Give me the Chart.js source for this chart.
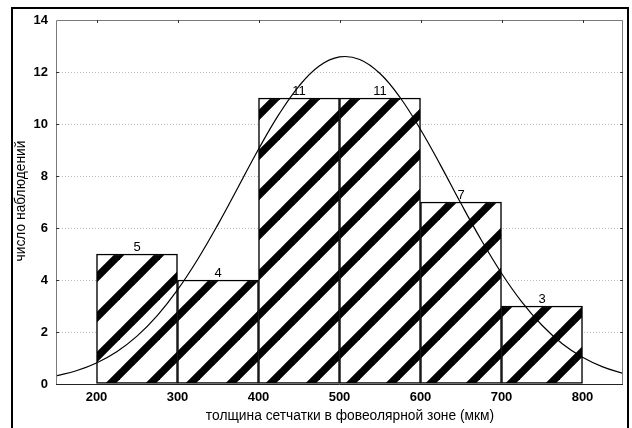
<!DOCTYPE html>
<html>
<head>
<meta charset="utf-8">
<script src="https://cdn.jsdelivr.net/npm/chart.js@4.4.1/dist/chart.umd.min.js"></script>
<style>
  html, body { margin: 0; padding: 0; background: #fff; }
  canvas { display: block; }
</style>
</head>
<body>
<canvas id="hist" width="632" height="428"></canvas>
<script>
// толщина сетчатки в фовеолярной зоне, число наблюдений по интервалам
const binCenters = [250, 350, 450, 550, 650, 750];
const counts = [5, 4, 11, 11, 7, 3];

// нормальная кривая, значения
const curveX = [150, 175, 200, 225, 250, 275, 300, 325, 350, 375, 400, 425, 450, 475, 500,
  525, 550, 575, 600, 625, 650, 675, 700, 725, 750, 775, 800, 825, 850];
const curveY = [0.31, 0.51, 0.81, 1.24, 1.84, 2.63, 3.62, 4.80, 6.14, 7.58, 9.03, 10.36, 11.46, 12.23, 12.58,
  12.48, 11.94, 11.01, 9.79, 8.40, 6.94, 5.54, 4.26, 3.16, 2.26, 1.55, 1.03, 0.66, 0.41];

const xTicks = [200, 300, 400, 500, 600, 700, 800];
const yTicks = [0, 2, 4, 6, 8, 10, 12, 14];

const xTitle = 'толщина сетчатки в фовеолярной зоне (мкм)';
const yTitle = 'число наблюдений';

const FONT = "'Liberation Sans', Arial, Helvetica, sans-serif";

// штриховка столбцов
function makeHatch() {
  const s = 40;
  const c = document.createElement('canvas');
  c.width = s;
  c.height = s;
  const g = c.getContext('2d');
  g.fillStyle = '#fff';
  g.fillRect(0, 0, s, s);
  g.strokeStyle = '#000';
  g.lineWidth = 7.5;
  for (const off of [-26, 14, 54]) {
    g.beginPath();
    g.moveTo(off - s - 10, s + 10);
    g.lineTo(off + 10, -10);
    g.stroke();
  }
  return g.createPattern(c, 'repeat');
}

const decor = {
  id: 'decor',
  beforeDraw(chart) {
    const ctx = chart.ctx;
    ctx.save();
    ctx.fillStyle = '#fff';
    ctx.fillRect(0, 0, chart.width, chart.height);
    ctx.restore();
  },
  afterDatasetsDraw(chart) {
    const ctx = chart.ctx;
    const meta = chart.getDatasetMeta(1);
    ctx.save();
    ctx.fillStyle = '#000';
    ctx.font = '13px ' + FONT;
    ctx.textAlign = 'center';
    ctx.textBaseline = 'bottom';
    meta.data.forEach((bar, i) => {
      ctx.fillText(String(counts[i]), bar.x, bar.y);
    });
    ctx.restore();
  },
  afterDraw(chart) {
    const { ctx, chartArea: a, scales } = chart;
    ctx.save();

    // рамка вокруг всего рисунка
    ctx.strokeStyle = '#000';
    ctx.lineWidth = 2;
    ctx.strokeRect(12, 8, 616, 440);

    // рамка области построения
    ctx.lineWidth = 1;
    ctx.strokeStyle = '#7a7a7a';
    ctx.beginPath();
    ctx.moveTo(a.left + 0.5, a.bottom);
    ctx.lineTo(a.left + 0.5, a.top + 0.5);
    ctx.lineTo(a.right - 0.5, a.top + 0.5);
    ctx.lineTo(a.right - 0.5, a.bottom);
    ctx.stroke();
    ctx.strokeStyle = '#222';
    ctx.beginPath();
    ctx.moveTo(a.left, a.bottom + 0.5);
    ctx.lineTo(a.right, a.bottom + 0.5);
    ctx.stroke();

    // мелкие засечки внутрь
    ctx.strokeStyle = '#333';
    ctx.beginPath();
    xTicks.forEach(v => {
      const px = Math.round(scales.x.getPixelForValue(v)) + 0.5;
      ctx.moveTo(px, a.top);
      ctx.lineTo(px, a.top + 3);
    });
    yTicks.slice(1, -1).forEach(v => {
      const py = Math.round(scales.y.getPixelForValue(v)) + 0.5;
      ctx.moveTo(a.left, py);
      ctx.lineTo(a.left + 3, py);
      ctx.moveTo(a.right, py);
      ctx.lineTo(a.right - 3, py);
    });
    ctx.stroke();

    // подписи осей
    ctx.fillStyle = '#000';
    ctx.font = '13.8px ' + FONT;
    ctx.textAlign = 'center';
    ctx.textBaseline = 'middle';
    ctx.fillText(xTitle, 350, 416);
    ctx.translate(21, 201);
    ctx.rotate(-Math.PI / 2);
    ctx.fillText(yTitle, 0, 0);
    ctx.restore();
  }
};

new Chart(document.getElementById('hist'), {
  type: 'bar',
  data: {
    datasets: [
      {
        type: 'line',
        data: curveX.map((x, i) => ({ x: x, y: curveY[i] })),
        borderColor: '#000',
        borderWidth: 1.2,
        pointRadius: 0,
        tension: 0.4,
        fill: false,
        order: 0
      },
      {
        type: 'bar',
        data: binCenters.map((x, i) => ({ x: x, y: counts[i] })),
        backgroundColor: makeHatch(),
        borderColor: '#000',
        borderWidth: 1.5,
        borderSkipped: false,
        barPercentage: 1,
        categoryPercentage: 1,
        order: 1
      }
    ]
  },
  options: {
    responsive: false,
    animation: false,
    layout: { padding: { top: 20, right: 9, left: 0, bottom: 0 } },
    plugins: { legend: { display: false }, tooltip: { enabled: false } },
    scales: {
      x: {
        type: 'linear',
        offset: false,
        min: 150,
        max: 850,
        afterBuildTicks: s => { s.ticks = xTicks.map(v => ({ value: v })); },
        afterFit: s => { s.height = 44; },
        grid: { display: false, drawTicks: false, offset: false },
        border: { display: false },
        ticks: { color: '#000', font: { family: FONT, size: 13, weight: 'bold' }, padding: 6, maxRotation: 0, autoSkip: false }
      },
      y: {
        min: 0,
        max: 14,
        afterBuildTicks: s => { s.ticks = yTicks.map(v => ({ value: v })); },
        afterFit: s => { s.width = 56; },
        grid: {
          drawTicks: false,
          lineWidth: 1,
          color: c => (c.tick && c.tick.value > 0 && c.tick.value < 14) ? '#bdbdbd' : 'rgba(0,0,0,0)'
        },
        border: { display: false, dash: [1, 2] },
        ticks: { color: '#000', font: { family: FONT, size: 13, weight: 'bold' }, padding: 8 }
      }
    }
  },
  plugins: [decor]
});
</script>
</body>
</html>
